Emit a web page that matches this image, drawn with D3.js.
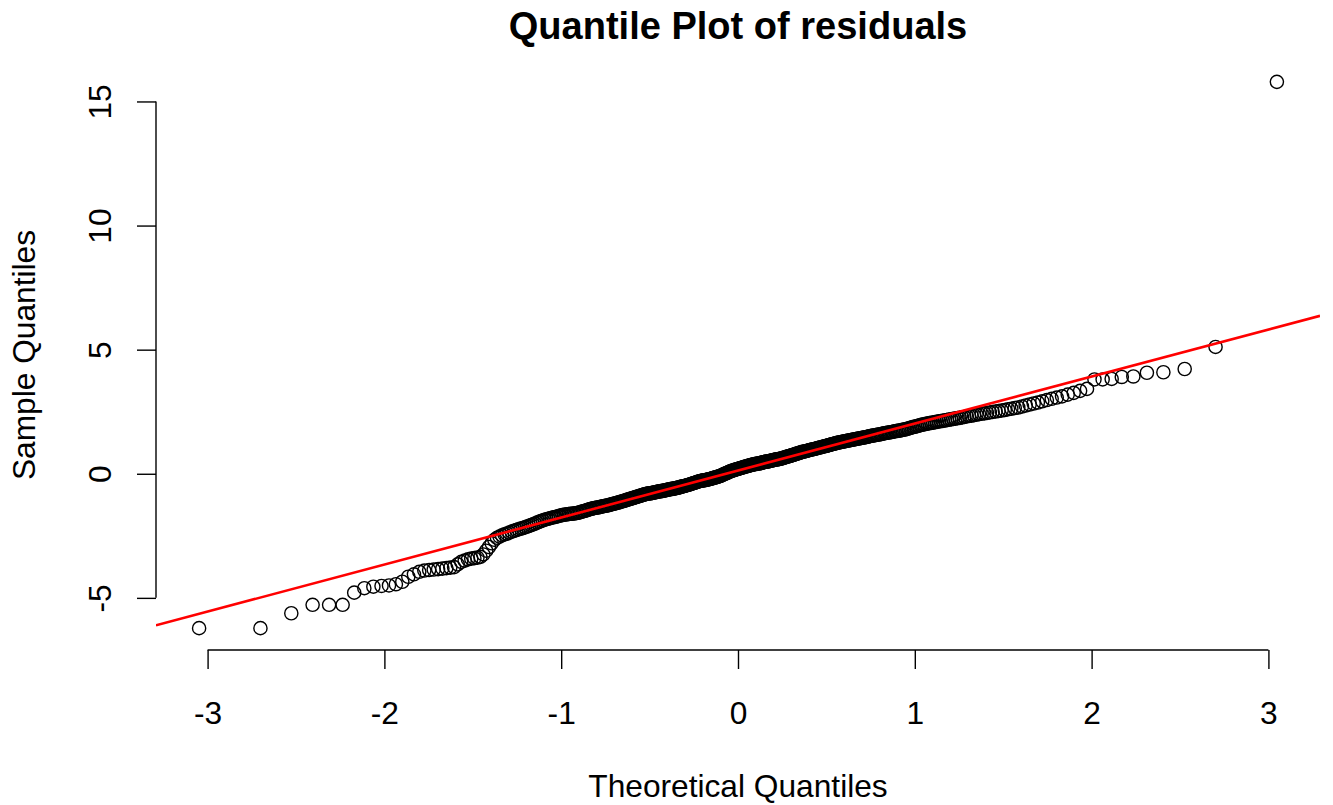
<!DOCTYPE html>
<html>
<head>
<meta charset="utf-8">
<script src="https://cdn.jsdelivr.net/npm/d3@7"></script>
<style>
  html, body { margin: 0; padding: 0; background: #fff; }
  svg { display: block; }
  text { font-family: "Liberation Sans", Arial, sans-serif; fill: #000; }
</style>
</head>
<body>
<svg id="chart" width="1333" height="805"></svg>
<script>
// ---- Data: sorted residuals (sample quantiles) ----
const sampleQuantiles = [
  -6.22, -6.22, -5.62, -5.28, -5.28, -5.28, -4.79, -4.61, -4.55, -4.52,
  -4.50, -4.45, -4.35, -4.15, -4.05, -3.95, -3.90, -3.88, -3.86, -3.84,
  -3.82, -3.80, -3.78, -3.76, -3.65, -3.55, -3.50, -3.45, -3.42, -3.40,
  -3.38, -3.35, -3.25, -3.10, -2.95, -2.80, -2.66, -2.58, -2.53, -2.48,
  -2.44, -2.41, -2.37, -2.33, -2.30, -2.27, -2.24, -2.21, -2.19, -2.16,
  -2.13, -2.10, -2.07, -2.04, -2.01, -1.97, -1.94, -1.91, -1.88, -1.85,
  -1.83, -1.81, -1.79, -1.77, -1.75, -1.74, -1.72, -1.70, -1.68, -1.66,
  -1.65, -1.64, -1.63, -1.62, -1.61, -1.61, -1.60, -1.59, -1.58, -1.57,
  -1.55, -1.53, -1.51, -1.50, -1.48, -1.46, -1.44, -1.42, -1.41, -1.39,
  -1.38, -1.37, -1.36, -1.35, -1.34, -1.32, -1.31, -1.30, -1.29, -1.28,
  -1.27, -1.25, -1.24, -1.22, -1.21, -1.20, -1.18, -1.17, -1.15, -1.14,
  -1.12, -1.11, -1.09, -1.08, -1.06, -1.04, -1.03, -1.01, -1.00, -0.98,
  -0.97, -0.95, -0.94, -0.92, -0.91, -0.89, -0.88, -0.86, -0.85, -0.83,
  -0.82, -0.81, -0.80, -0.79, -0.79, -0.78, -0.77, -0.76, -0.75, -0.74,
  -0.73, -0.72, -0.71, -0.70, -0.70, -0.69, -0.68, -0.67, -0.66, -0.65,
  -0.64, -0.63, -0.62, -0.61, -0.61, -0.60, -0.59, -0.58, -0.57, -0.56,
  -0.55, -0.54, -0.52, -0.51, -0.50, -0.49, -0.48, -0.46, -0.45, -0.44,
  -0.43, -0.41, -0.40, -0.38, -0.37, -0.36, -0.34, -0.33, -0.31, -0.30,
  -0.29, -0.28, -0.27, -0.26, -0.26, -0.25, -0.24, -0.23, -0.22, -0.21,
  -0.20, -0.19, -0.17, -0.16, -0.15, -0.14, -0.13, -0.11, -0.10, -0.09,
  -0.07, -0.05, -0.03, -0.01, 0.01, 0.02, 0.04, 0.06, 0.08, 0.10,
  0.11, 0.13, 0.14, 0.15, 0.17, 0.18, 0.19, 0.20, 0.22, 0.23,
  0.24, 0.25, 0.27, 0.28, 0.29, 0.30, 0.31, 0.33, 0.34, 0.35,
  0.36, 0.37, 0.38, 0.39, 0.40, 0.40, 0.41, 0.42, 0.43, 0.44,
  0.45, 0.46, 0.47, 0.48, 0.49, 0.49, 0.50, 0.51, 0.52, 0.53,
  0.54, 0.55, 0.56, 0.57, 0.58, 0.58, 0.59, 0.60, 0.61, 0.62,
  0.63, 0.65, 0.66, 0.67, 0.69, 0.70, 0.71, 0.72, 0.74, 0.75,
  0.76, 0.78, 0.79, 0.81, 0.82, 0.83, 0.85, 0.86, 0.88, 0.89,
  0.90, 0.91, 0.92, 0.93, 0.95, 0.96, 0.97, 0.98, 0.99, 1.00,
  1.01, 1.02, 1.04, 1.05, 1.06, 1.07, 1.08, 1.10, 1.11, 1.12,
  1.13, 1.15, 1.16, 1.17, 1.19, 1.20, 1.21, 1.22, 1.24, 1.25,
  1.26, 1.27, 1.28, 1.29, 1.30, 1.31, 1.32, 1.33, 1.34, 1.35,
  1.36, 1.37, 1.38, 1.39, 1.40, 1.41, 1.42, 1.43, 1.44, 1.45,
  1.46, 1.47, 1.48, 1.49, 1.51, 1.52, 1.53, 1.54, 1.55, 1.56,
  1.57, 1.58, 1.59, 1.60, 1.62, 1.63, 1.64, 1.65, 1.66, 1.67,
  1.68, 1.69, 1.71, 1.72, 1.73, 1.74, 1.75, 1.77, 1.78, 1.79,
  1.81, 1.83, 1.85, 1.87, 1.89, 1.90, 1.92, 1.94, 1.96, 1.98,
  1.99, 2.01, 2.02, 2.04, 2.05, 2.06, 2.08, 2.09, 2.11, 2.12,
  2.13, 2.15, 2.16, 2.18, 2.19, 2.21, 2.22, 2.24, 2.25, 2.27,
  2.29, 2.31, 2.33, 2.34, 2.36, 2.38, 2.40, 2.42, 2.43, 2.45,
  2.47, 2.49, 2.51, 2.53, 2.55, 2.57, 2.60, 2.62, 2.65, 2.67,
  2.71, 2.75, 2.79, 2.83, 2.87, 2.92, 2.97, 3.02, 3.07, 3.12,
  3.19, 3.26, 3.34, 3.42,
  3.80, 3.80, 3.82, 3.90, 3.92, 4.07, 4.09, 4.22, 5.11, 15.79
];

const xTicks = [-3, -2, -1, 0, 1, 2, 3];
const yTicks = [-5, 0, 5, 10, 15];
const titleText = "Quantile Plot of residuals";
const xLabelText = "Theoretical Quantiles";
const yLabelText = "Sample Quantiles";

// ---- qqnorm helpers (inverse normal CDF, Acklam) ----
function qnorm(p) {
  const a = [-3.969683028665376e+01, 2.209460984245205e+02, -2.759285104469687e+02,
             1.383577518672690e+02, -3.066479806614716e+01, 2.506628277459239e+00];
  const b = [-5.447609879822406e+01, 1.615858368580409e+02, -1.556989798598866e+02,
             6.680131188771972e+01, -1.328068155288572e+01];
  const c = [-7.784894002430293e-03, -3.223964580411365e-01, -2.400758277161838e+00,
             -2.549732539343734e+00, 4.374664141464968e+00, 2.938163982698783e+00];
  const d = [7.784695709041462e-03, 3.224671290700398e-01, 2.445134137142996e+00,
             3.754408661907416e+00];
  const plow = 0.02425, phigh = 1 - plow;
  let q, r;
  if (p < plow) {
    q = Math.sqrt(-2 * Math.log(p));
    return (((((c[0]*q+c[1])*q+c[2])*q+c[3])*q+c[4])*q+c[5]) /
           ((((d[0]*q+d[1])*q+d[2])*q+d[3])*q+1);
  } else if (p <= phigh) {
    q = p - 0.5; r = q*q;
    return (((((a[0]*r+a[1])*r+a[2])*r+a[3])*r+a[4])*r+a[5])*q /
           (((((b[0]*r+b[1])*r+b[2])*r+b[3])*r+b[4])*r+1);
  } else {
    q = Math.sqrt(-2 * Math.log(1 - p));
    return -(((((c[0]*q+c[1])*q+c[2])*q+c[3])*q+c[4])*q+c[5]) /
            ((((d[0]*q+d[1])*q+d[2])*q+d[3])*q+1);
  }
}
const n = sampleQuantiles.length;
const aPP = n <= 10 ? 3/8 : 1/2;
const points = sampleQuantiles.map((v, i) => ({
  tq: qnorm((i + 1 - aPP) / (n + 1 - 2 * aPP)),
  sq: v
}));

// qqline through the 1st and 3rd quartiles (R type 7 quantiles)
const sorted = sampleQuantiles.slice().sort((a, b) => a - b);
const yq = [d3.quantileSorted(sorted, 0.25), d3.quantileSorted(sorted, 0.75)];
const xq = [qnorm(0.25), qnorm(0.75)];
const slope = (yq[1] - yq[0]) / (xq[1] - xq[0]);
const intercept = yq[0] - slope * xq[0];

// ---- Layout ----
const W = 1333, H = 805;
const plot = { left: 156, right: 1320, top: 60, bottom: 650 };
const FS = 31.7;

function ext(domain) {
  const r = domain[1] - domain[0];
  return [domain[0] - 0.04 * r, domain[1] + 0.04 * r];
}
const x = d3.scaleLinear()
  .domain(ext(d3.extent(points, d => d.tq)))
  .range([plot.left, plot.right]);
const y = d3.scaleLinear()
  .domain(ext(d3.extent(points, d => d.sq)))
  .range([plot.bottom, plot.top]);

const svg = d3.select("#chart");
svg.append("rect").attr("width", W).attr("height", H).attr("fill", "#fff");

svg.append("defs").append("clipPath").attr("id", "clip")
  .append("rect")
  .attr("x", plot.left).attr("y", plot.top)
  .attr("width", plot.right - plot.left).attr("height", plot.bottom - plot.top);

// points
svg.append("g").attr("clip-path", "url(#clip)")
  .selectAll("circle").data(points).join("circle")
  .attr("cx", d => x(d.tq))
  .attr("cy", d => y(d.sq))
  .attr("r", 6.6)
  .attr("fill", "none")
  .attr("stroke", "#000")
  .attr("stroke-width", 1.4);

// qq line
const xd = x.domain();
svg.append("g").attr("clip-path", "url(#clip)")
  .append("line")
  .attr("x1", x(xd[0])).attr("y1", y(intercept + slope * xd[0]))
  .attr("x2", x(xd[1])).attr("y2", y(intercept + slope * xd[1]))
  .attr("stroke", "#ff0000")
  .attr("stroke-width", 2.6);

// x axis
const gx = svg.append("g")
  .attr("transform", `translate(0,${plot.bottom})`)
  .call(d3.axisBottom(x).tickValues(xTicks).tickFormat(d => String(d))
    .tickSize(19).tickSizeOuter(0).tickPadding(32));
gx.select(".domain").remove();
gx.append("line")
  .attr("x1", x(xTicks[0])).attr("x2", x(xTicks[xTicks.length - 1]))
  .attr("y1", 0).attr("y2", 0)
  .attr("stroke", "#000").attr("stroke-width", 1.4);
gx.selectAll(".tick line").attr("stroke", "#000").attr("stroke-width", 1.4);
gx.selectAll(".tick text")
  .attr("font-size", FS)
  .attr("font-family", "Liberation Sans, Arial, sans-serif")
  .attr("fill", "#000");

// y axis
const gy = svg.append("g")
  .attr("transform", `translate(${plot.left},0)`)
  .call(d3.axisLeft(y).tickValues(yTicks).tickFormat(d => String(d))
    .tickSize(19).tickSizeOuter(0));
gy.select(".domain").remove();
gy.append("line")
  .attr("x1", 0).attr("x2", 0)
  .attr("y1", y(yTicks[0])).attr("y2", y(yTicks[yTicks.length - 1]))
  .attr("stroke", "#000").attr("stroke-width", 1.4);
gy.selectAll(".tick line").attr("stroke", "#000").attr("stroke-width", 1.4);
gy.selectAll(".tick text")
  .attr("font-size", FS)
  .attr("font-family", "Liberation Sans, Arial, sans-serif")
  .attr("fill", "#000")
  .attr("x", null).attr("dy", null)
  .attr("text-anchor", "middle")
  .attr("transform", "translate(-45,0) rotate(-90)");

// titles
svg.append("text")
  .attr("x", (plot.left + plot.right) / 2).attr("y", 39)
  .attr("text-anchor", "middle")
  .attr("font-size", FS * 1.2).attr("font-weight", "bold")
  .text(titleText);

svg.append("text")
  .attr("x", (plot.left + plot.right) / 2).attr("y", 797)
  .attr("text-anchor", "middle")
  .attr("font-size", FS)
  .text(xLabelText);

svg.append("text")
  .attr("transform", `translate(35,${(plot.top + plot.bottom) / 2}) rotate(-90)`)
  .attr("text-anchor", "middle")
  .attr("font-size", FS)
  .text(yLabelText);
</script>
</body>
</html>
